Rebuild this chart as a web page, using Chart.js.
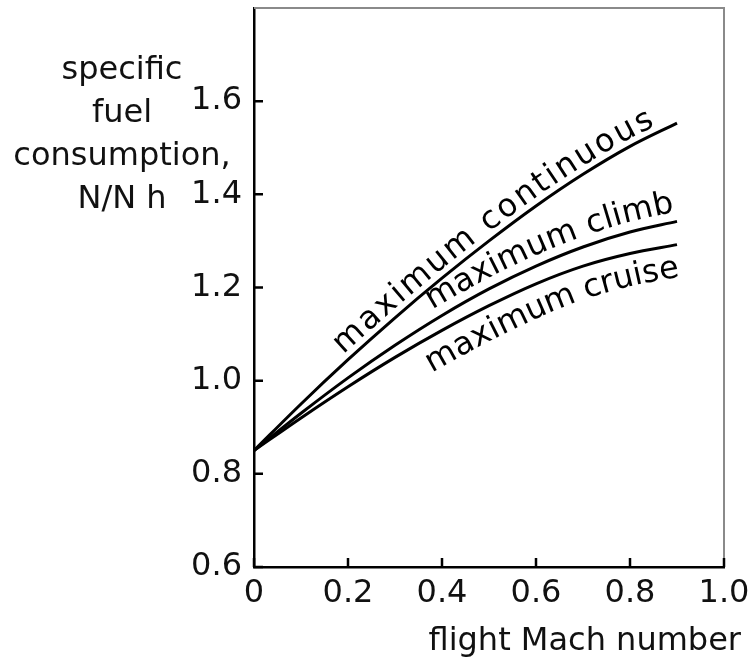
<!DOCTYPE html>
<html>
<head>
<meta charset="utf-8">
<script src="https://cdn.jsdelivr.net/npm/chart.js@4.4.0/dist/chart.umd.min.js"></script>
<style>
  body { margin: 0; background: #fff; }
  #wrap { width: 753px; height: 662px; position: relative; }
</style>
</head>
<body>
<div id="wrap"><canvas id="sfcChart"></canvas></div>
<script>
// data
const machNumbers = [0, 0.1, 0.2, 0.3, 0.4, 0.5, 0.6, 0.7, 0.8, 0.9];
const maxContinuous = [0.85, 0.95, 1.045, 1.135, 1.22, 1.30, 1.375, 1.443, 1.503, 1.553];
const maxClimb = [0.85, 0.93, 1.006, 1.076, 1.14, 1.197, 1.246, 1.287, 1.319, 1.342];
const maxCruise = [0.85, 0.92, 0.987, 1.05, 1.108, 1.161, 1.208, 1.246, 1.273, 1.292];
const seriesNames = ["maximum continuous", "maximum climb", "maximum cruise"];
const xTicks = [0, 0.2, 0.4, 0.6, 0.8, 1.0];
const yTicks = [0.6, 0.8, 1.0, 1.2, 1.4, 1.6];
const yTitle = ["specific", "fuel", "consumption,", "N/N h"];
const xTitle = "flight Mach number";

const FONT = "32px 'DejaVu Sans'";

// where each curve name sits along its curve (mach range, offset above line in px)
const curveLabels = [
    { ds: 0, from: 0.2, to: 0.857, off: 7 },
    { ds: 1, from: 0.389, to: 0.9, off: 10 },
    { ds: 2, from: 0.345, to: 0.891, off: -32 }
];

function toPoints(ys) {
    return machNumbers.map((x, i) => ({ x: x, y: ys[i] }));
}

// sample the drawn curve (bezier control points from chart.js)
function samplePath(chart, index) {
    const pts = chart.getDatasetMeta(index).data;
    const out = [];
    for (let k = 0; k < pts.length - 1; k++) {
        const a = pts[k], b = pts[k + 1];
        const c1x = a.cp2x ?? a.x, c1y = a.cp2y ?? a.y;
        const c2x = b.cp1x ?? b.x, c2y = b.cp1y ?? b.y;
        for (let j = 0; j < 20; j++) {
            const t = j / 20, u = 1 - t;
            out.push({
                x: u * u * u * a.x + 3 * u * u * t * c1x + 3 * u * t * t * c2x + t * t * t * b.x,
                y: u * u * u * a.y + 3 * u * u * t * c1y + 3 * u * t * t * c2y + t * t * t * b.y
            });
        }
    }
    const last = pts[pts.length - 1];
    out.push({ x: last.x, y: last.y });
    out[0].s = 0;
    for (let i = 1; i < out.length; i++) {
        out[i].s = out[i - 1].s + Math.hypot(out[i].x - out[i - 1].x, out[i].y - out[i - 1].y);
    }
    return out;
}

function pointAt(path, s) {
    if (s <= 0) return path[0];
    for (let i = 1; i < path.length; i++) {
        if (path[i].s >= s) {
            const a = path[i - 1], b = path[i];
            const t = (s - a.s) / (b.s - a.s || 1);
            return { x: a.x + (b.x - a.x) * t, y: a.y + (b.y - a.y) * t };
        }
    }
    return path[path.length - 1];
}

function arcAtX(path, px) {
    for (let i = 0; i < path.length; i++) {
        if (path[i].x >= px) return path[i].s;
    }
    return path[path.length - 1].s;
}

const decorPlugin = {
    id: "decor",
    afterDraw(chart) {
        const ctx = chart.ctx;
        const area = chart.chartArea;
        const xs = chart.scales.x, ys = chart.scales.y;

        ctx.save();
        // top + right frame
        ctx.strokeStyle = "#8a8a8a";
        ctx.lineWidth = 2;
        ctx.beginPath();
        ctx.moveTo(area.left, area.top);
        ctx.lineTo(area.right, area.top);
        ctx.lineTo(area.right, area.bottom);
        ctx.stroke();

        // inward ticks
        ctx.strokeStyle = "#000";
        ctx.lineWidth = 2.5;
        ctx.beginPath();
        yTicks.forEach(v => {
            const y = ys.getPixelForValue(v);
            ctx.moveTo(area.left, y);
            ctx.lineTo(area.left + 9, y);
        });
        xTicks.forEach(v => {
            const x = xs.getPixelForValue(v);
            ctx.moveTo(x, area.bottom);
            ctx.lineTo(x, area.bottom - 9);
        });
        ctx.stroke();

        // axis titles
        ctx.fillStyle = "#111";
        ctx.font = FONT;
        ctx.textAlign = "center";
        ctx.textBaseline = "alphabetic";
        yTitle.forEach((line, i) => {
            ctx.fillText(line, 122, 79 + i * 43);
        });
        ctx.textAlign = "right";
        ctx.fillText(xTitle, 741, 650);

        // curve names along the curves
        ctx.fillStyle = "#000";
        curveLabels.forEach(lab => {
            const path = samplePath(chart, lab.ds);
            const text = seriesNames[lab.ds];
            const s0 = arcAtX(path, xs.getPixelForValue(lab.from));
            const s1 = arcAtX(path, xs.getPixelForValue(lab.to));
            const widths = text.split("").map(ch => ctx.measureText(ch).width);
            const total = widths.reduce((a, b) => a + b, 0);
            const extra = (s1 - s0 - total) / (text.length - 1);
            let s = s0;
            ctx.textAlign = "center";
            text.split("").forEach((ch, i) => {
                const mid = s + widths[i] / 2;
                const p = pointAt(path, mid);
                const pa = pointAt(path, mid - 8), pb = pointAt(path, mid + 8);
                const ang = Math.atan2(pb.y - pa.y, pb.x - pa.x);
                const nx = Math.sin(ang), ny = -Math.cos(ang);
                ctx.save();
                ctx.translate(p.x + nx * lab.off, p.y + ny * lab.off);
                ctx.rotate(ang);
                ctx.fillText(ch, 0, 0);
                ctx.restore();
                s += widths[i] + extra;
            });
        });
        ctx.restore();
    }
};

const lineStyle = {
    borderColor: "#000",
    borderWidth: 3,
    pointRadius: 0,
    fill: false,
    cubicInterpolationMode: "monotone"
};

new Chart(document.getElementById("sfcChart"), {
    type: "line",
    data: {
        datasets: [
            Object.assign({ label: seriesNames[0], data: toPoints(maxContinuous) }, lineStyle),
            Object.assign({ label: seriesNames[1], data: toPoints(maxClimb) }, lineStyle),
            Object.assign({ label: seriesNames[2], data: toPoints(maxCruise) }, lineStyle)
        ]
    },
    options: {
        responsive: true,
        maintainAspectRatio: false,
        animation: false,
        layout: { padding: { left: 0, right: 29, top: 8, bottom: 0 } },
        plugins: {
            legend: { display: false },
            tooltip: { enabled: false }
        },
        scales: {
            x: {
                type: "linear",
                min: 0,
                max: 1.0,
                grid: { display: false, drawTicks: false },
                border: { color: "#000", width: 2.5 },
                afterBuildTicks: s => { s.ticks = xTicks.map(v => ({ value: v })); },
                afterFit: s => { s.height = 95; s.paddingLeft = 0; s.paddingRight = 0; },
                ticks: {
                    color: "#111",
                    font: { family: "DejaVu Sans", size: 32 },
                    padding: 7,
                    maxRotation: 0,
                    callback: v => (v === 0 ? "0" : v.toFixed(1))
                }
            },
            y: {
                min: 0.6,
                max: 1.8,
                grid: { display: false, drawTicks: false },
                border: { color: "#000", width: 2.5 },
                afterBuildTicks: s => { s.ticks = yTicks.map(v => ({ value: v })); },
                afterFit: s => { s.width = 254; s.paddingTop = 0; s.paddingBottom = 0; },
                ticks: {
                    color: "#111",
                    font: { family: "DejaVu Sans", size: 32 },
                    padding: 12,
                    callback: v => v.toFixed(1)
                }
            }
        }
    },
    plugins: [decorPlugin]
});
</script>
</body>
</html>
